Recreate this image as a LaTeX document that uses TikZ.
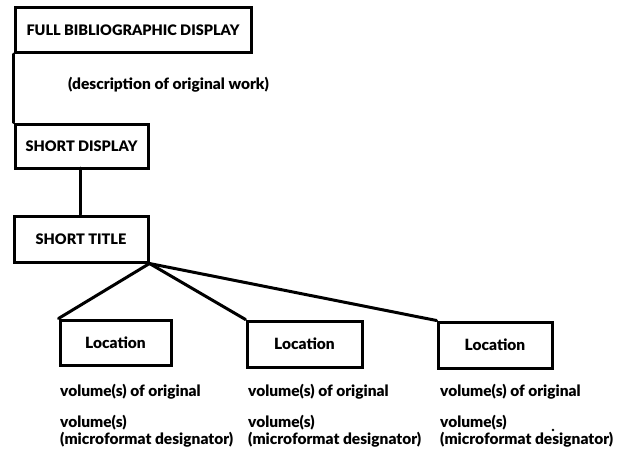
\documentclass[tikz,border=0pt]{standalone}
\usepackage{fontspec}
\setmainfont{Lato}[BoldFont={* Black}]
\begin{document}
\begin{tikzpicture}[x=1pt,y=-1pt,
  box/.style={draw=black, line width=3pt, inner sep=0pt, font=\bfseries\fontsize{14.5}{16}\selectfont},
  locbox/.style={box, font=\bfseries\fontsize{15.5}{17}\selectfont},
  label/.style={inner sep=0pt, anchor=west, font=\bfseries\fontsize{15.5}{17}\selectfont},
  link/.style={line width=3pt, line cap=round, line join=round}]
  \useasboundingbox (0,0) rectangle (630,456);

  % upper chain of displays
  \node[box, minimum width=236pt, minimum height=45pt] (full) at (133,30) {FULL BIBLIOGRAPHIC DISPLAY};
  \node[label] (desc) at (68,85) {(description of original work)};
  \node[box, minimum width=133pt, minimum height=44pt] (sd) at (81.5,146) {SHORT DISPLAY};
  \node[box, minimum width=134pt, minimum height=46pt] (st) at (81,239) {SHORT TITLE};

  % location boxes
  \node[locbox, minimum width=111pt, minimum height=45pt] (loc1) at (115.5,342.5) {Location};
  \node[locbox, minimum width=115pt, minimum height=46pt] (loc2) at (304.5,344) {Location};
  \node[locbox, minimum width=114pt, minimum height=46pt] (loc3) at (495,345) {Location};

  % connectors
  \draw[link] (full.south west) -- (sd.north west);
  \coordinate (sdfoot) at (80,168);
  \draw[link] (sdfoot) -- (sdfoot |- st.north);
  \draw[link] (st.south east) -- (loc1.north west);
  \draw[link] (st.south east) -- (loc2.north west);
  \draw[link] (st.south east) -- (loc3.north west);

  % holdings under each location
  \foreach \c/\x in {a/60, b/248, c/440} {
    \node[label] (orig\c) at (\x,392) {volume(s) of original};
    \node[label] (vol\c) at (\x,423) {volume(s)};
    \node[label] (mf\c) at (\x,440) {(microformat designator)};
  }
  \fill (553,430) circle (1.4pt);
\end{tikzpicture}
\end{document}
